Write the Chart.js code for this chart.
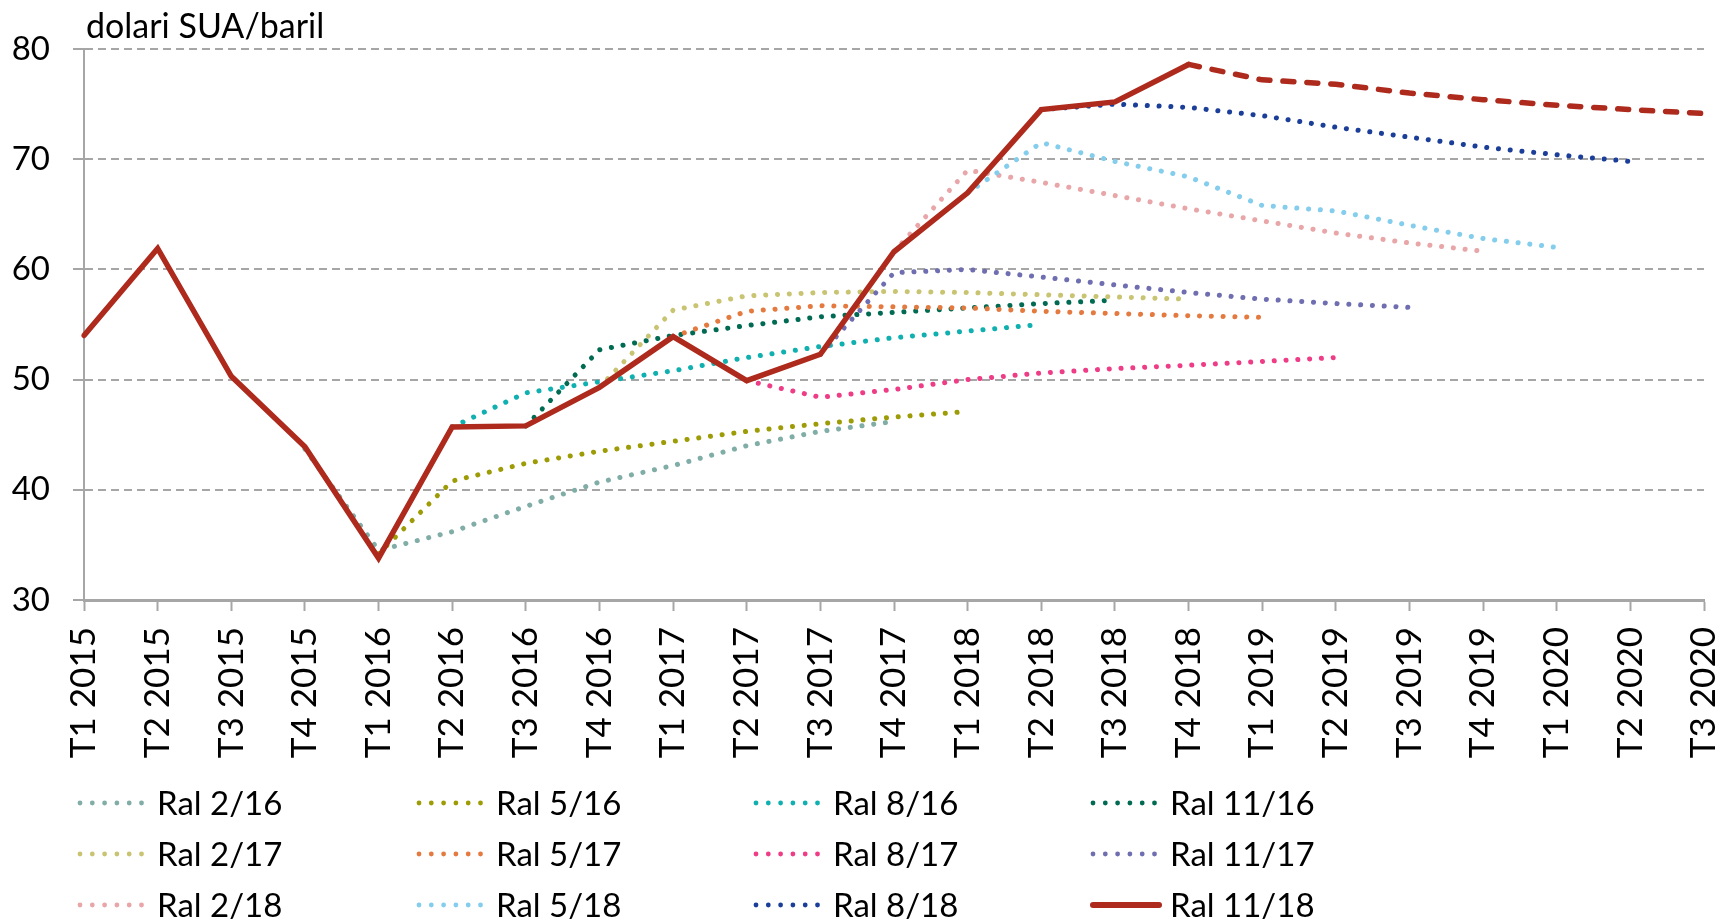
<!DOCTYPE html>
<html>
<head>
<meta charset="utf-8">
<title>Pretul petrolului</title>
<script src="https://cdn.jsdelivr.net/npm/chart.js@4/dist/chart.umd.min.js"></script>
<style>
	html, body { margin: 0; padding: 0; background: #fff; }
	#wrap { position: relative; width: 1725px; height: 923px; }
</style>
</head>
<body>
<div id="wrap"><canvas id="petrol"></canvas></div>
<script>
(function () {
	var quarters = [
		"T1 2015", "T2 2015", "T3 2015", "T4 2015",
		"T1 2016", "T2 2016", "T3 2016", "T4 2016",
		"T1 2017", "T2 2017", "T3 2017", "T4 2017",
		"T1 2018", "T2 2018", "T3 2018", "T4 2018",
		"T1 2019", "T2 2019", "T3 2019", "T4 2019",
		"T1 2020", "T2 2020", "T3 2020"
	];

	// each report's path starts at the quarter given as first argument
	function from(q, values) {
		var out = [];
		var start = quarters.indexOf(q);
		for (var i = 0; i < start; i++) out.push(null);
		return out.concat(values);
	}

	var ral216 = from("T4 2015", [43.7, 34.5, 36.2, 38.5, 40.7, 42.2, 44.0, 45.3, 46.2]);
	var ral516 = from("T1 2016", [34.2, 40.8, 42.4, 43.5, 44.4, 45.3, 46.0, 46.6, 47.1]);
	var ral816 = from("T2 2016", [45.7, 48.8, 49.8, 50.8, 52.0, 53.0, 53.8, 54.4, 55.0]);
	var ral1116 = from("T3 2016", [45.8, 52.7, 54.0, 54.9, 55.7, 56.1, 56.5, 56.9, 57.2]);
	var ral217 = from("T4 2016", [49.3, 56.3, 57.6, 57.9, 58.0, 57.9, 57.7, 57.5, 57.3]);
	var ral517 = from("T1 2017", [53.9, 56.2, 56.7, 56.6, 56.5, 56.2, 56.0, 55.8, 55.65]);
	var ral817 = from("T2 2017", [49.9, 48.4, 49.1, 50.0, 50.6, 51.0, 51.3, 51.65, 52.0]);
	var ral1117 = from("T3 2017", [52.3, 59.7, 60.0, 59.3, 58.6, 57.9, 57.3, 56.9, 56.55]);
	var ral218 = from("T4 2017", [61.6, 69.0, 67.9, 66.7, 65.5, 64.4, 63.3, 62.4, 61.65]);
	var ral518 = from("T1 2018", [66.95, 71.5, 69.8, 68.4, 65.8, 65.3, 64.0, 62.8, 62.0]);
	var ral818 = from("T2 2018", [74.5, 75.0, 74.7, 73.95, 72.9, 72.0, 71.1, 70.4, 69.8]);
	var ral1118 = [
		54.0, 61.9, 50.3, 43.9, 33.8, 45.7, 45.8, 49.3, 53.9, 49.9, 52.3, 61.6,
		66.95, 74.5, 75.2, 78.6, 77.2, 76.8, 76.0, 75.4, 74.9, 74.5, 74.15
	];
	var lastActual = quarters.indexOf("T4 2018");

	var reports = [
		["Ral 2/16", ral216, "#80ADA6"],
		["Ral 5/16", ral516, "#9E9C06"],
		["Ral 8/16", ral816, "#10B0B0"],
		["Ral 11/16", ral1116, "#006A52"],
		["Ral 2/17", ral217, "#C9C472"],
		["Ral 5/17", ral517, "#E47A40"],
		["Ral 8/17", ral817, "#EE3D86"],
		["Ral 11/17", ral1117, "#6F6EB0"],
		["Ral 2/18", ral218, "#E8A6A8"],
		["Ral 5/18", ral518, "#84CDEC"],
		["Ral 8/18", ral818, "#1B3F98"]
	];

	var datasets = reports.map(function (r, i) {
		return {
			label: r[0],
			data: r[1],
			borderColor: r[2],
			borderWidth: 5,
			borderDash: [0.1, 11.7],
			borderCapStyle: 'round',
			pointRadius: 0,
			tension: 0,
			order: -i
		};
	});

	datasets.push({
		label: "Ral 11/18",
		data: ral1118,
		borderColor: "#AD2A1C",
		borderWidth: 5.5,
		borderCapStyle: 'round',
		pointRadius: 0,
		tension: 0,
		order: -20,
		segment: {
			borderDash: function (ctx) {
				return ctx.p0DataIndex >= lastActual ? [11, 13] : undefined;
			}
		}
	});

	var legendCols = [78, 417, 754, 1091];
	var legendRows = [803, 854, 905];

	var extras = {
		id: 'extras',
		afterDraw: function (chart) {
			var ctx = chart.ctx;
			ctx.save();
			ctx.fillStyle = '#000';
			ctx.font = '34px Lato';
			ctx.textAlign = 'left';
			ctx.textBaseline = 'alphabetic';
			ctx.fillText("dolari SUA/baril", 86, 38);

			ctx.font = '33px Lato';
			ctx.textBaseline = 'middle';
			chart.data.datasets.forEach(function (ds, i) {
				var x = legendCols[i % 4];
				var y = legendRows[Math.floor(i / 4)];
				if (ds.segment) {
					ctx.strokeStyle = ds.borderColor;
					ctx.lineWidth = 6;
					ctx.lineCap = 'round';
					ctx.beginPath();
					ctx.moveTo(x + 2, y);
					ctx.lineTo(x + 68, y);
					ctx.stroke();
				} else {
					ctx.fillStyle = ds.borderColor;
					for (var k = 0; k < 6; k++) {
						ctx.beginPath();
						ctx.arc(x + 2 + k * 12.3, y, 2.4, 0, Math.PI * 2);
						ctx.fill();
					}
				}
				ctx.fillStyle = '#000';
				ctx.fillText(ds.label, x + 79, y + 1);
			});
			ctx.restore();
		}
	};

	Chart.defaults.font.family = 'Lato';
	Chart.defaults.color = '#000';

	var ctx = document.getElementById("petrol");
	new Chart(ctx, {
		type: 'line',
		data: {
			labels: quarters,
			datasets: datasets
		},
		options: {
			responsive: true,
			maintainAspectRatio: false,
			animation: false,
			layout: {
				padding: { top: 49, right: 21, bottom: 153, left: 0 }
			},
			plugins: {
				legend: { display: false },
				tooltip: { enabled: false }
			},
			scales: {
				x: {
					offset: false,
					grid: {
						drawOnChartArea: false,
						tickLength: 11,
						tickColor: '#A6A6A6',
						tickWidth: 2
					},
					border: { color: '#A6A6A6', width: 3 },
					ticks: {
						autoSkip: false,
						minRotation: 90,
						maxRotation: 90,
						padding: 16,
						font: { size: 35 }
					},
					afterFit: function (scale) {
						scale.height = 170;
						scale.paddingLeft = 0;
						scale.paddingRight = 0;
					}
				},
				y: {
					min: 30,
					max: 80,
					grid: {
						color: '#A6A6A6',
						lineWidth: 2,
						tickLength: 11,
						tickColor: '#A6A6A6',
						tickWidth: 2
					},
					border: { color: '#A6A6A6', width: 2, dash: [8, 5] },
					ticks: {
						stepSize: 10,
						padding: 23,
						font: { size: 33 }
					},
					afterFit: function (scale) { scale.width = 84; }
				}
			}
		},
		plugins: [extras]
	});
})();
</script>
</body>
</html>
